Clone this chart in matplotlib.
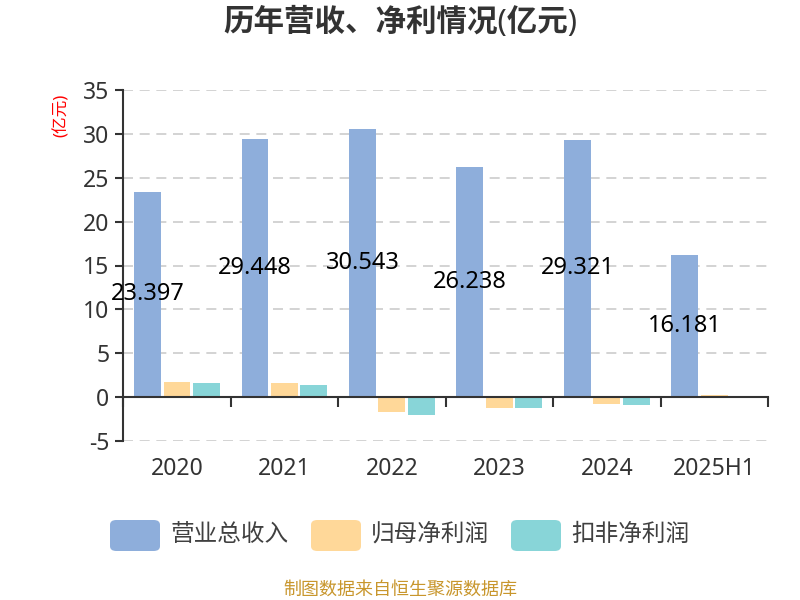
import numpy as np
import matplotlib
matplotlib.use("Agg")
from matplotlib import pyplot as plt
from matplotlib.patches import FancyBboxPatch

plt.rcParams['font.family'] = ['Noto Sans', 'Noto Sans CJK SC', 'DejaVu Sans']
plt.rcParams['axes.unicode_minus'] = False

years = ['2020', '2021', '2022', '2023', '2024', '2025H1']
revenue = [23.397, 29.448, 30.543, 26.238, 29.321, 16.181]
net_profit = [1.71, 1.56, -1.71, -1.29, -0.80, 0.27]
net_profit_ex = [1.56, 1.41, -2.00, -1.21, -0.91, 0.10]

names = ['营业总收入', '归母净利润', '扣非净利润']
colors = ['#8eaedb', '#ffd899', '#88d5d8']

fig = plt.figure(figsize=(8, 6), dpi=100)
ax = fig.add_axes([0.154, 0.265, 0.806, 0.585])

x = np.arange(len(years))
w = 0.25
off = 0.274
ax.bar(x - off, revenue, w, color=colors[0], zorder=3)
ax.bar(x, net_profit, w, color=colors[1], zorder=3)
ax.bar(x + off, net_profit_ex, w, color=colors[2], zorder=3)

for xi, v in zip(x, revenue):
    ax.text(xi - off, v / 2, f'{v:.3f}', ha='center', va='center',
            fontsize=17, color='black', zorder=5)

ax.set_xlim(-0.5, len(years) - 0.5)
ax.set_ylim(-5, 35)
ax.set_yticks(np.arange(-5, 36, 5))
ax.yaxis.grid(True, linestyle=(0, (6, 4)), color='#cccccc', linewidth=1.2, zorder=0)

for s in ['top', 'right']:
    ax.spines[s].set_visible(False)
ax.spines['left'].set_color('#333333')
ax.spines['left'].set_linewidth(1.5)
ax.spines['bottom'].set_position(('data', 0))
ax.spines['bottom'].set_color('#333333')
ax.spines['bottom'].set_linewidth(1.5)
ax.spines['bottom'].set_zorder(4)

ax.set_xticks(x)
ax.set_xticklabels(years)
ax.set_xticks(np.arange(-0.5, len(years), 1), minor=True)
ax.tick_params(axis='x', which='major', length=0, pad=43, labelsize=16.5, labelcolor='#333333')
ax.tick_params(axis='x', which='minor', length=7, width=1.5, color='#333333', direction='out')
ax.tick_params(axis='y', length=6, width=1.5, color='#333333', labelsize=16.5, labelcolor='#333333', pad=4)

fig.text(0.0775, 0.808, '(亿元)', rotation=90, color='red', fontsize=12, ha='center', va='center')
fig.text(0.5, 0.962, '历年营收、净利情况(亿元)', ha='center', va='center',
         fontsize=22, fontweight='bold', color='#333333')

# legend
lx = [110, 311, 511]
for px, name, c in zip(lx, names, colors):
    fig.patches.append(FancyBboxPatch((px / 800, (600 - 551) / 600), 50 / 800, 31 / 600,
                                      boxstyle='round,pad=0,rounding_size=0.008',
                                      transform=fig.transFigure, facecolor=c,
                                      edgecolor='none'))
    fig.text((px + 60) / 800, (600 - 535) / 600, name, fontsize=17,
             color='#404040', ha='left', va='center')

fig.text(0.5, (600 - 590) / 600, '制图数据来自恒生聚源数据库', ha='center', va='center',
         fontsize=13, color='#c8962c')

fig.savefig('out.png', dpi=100)
